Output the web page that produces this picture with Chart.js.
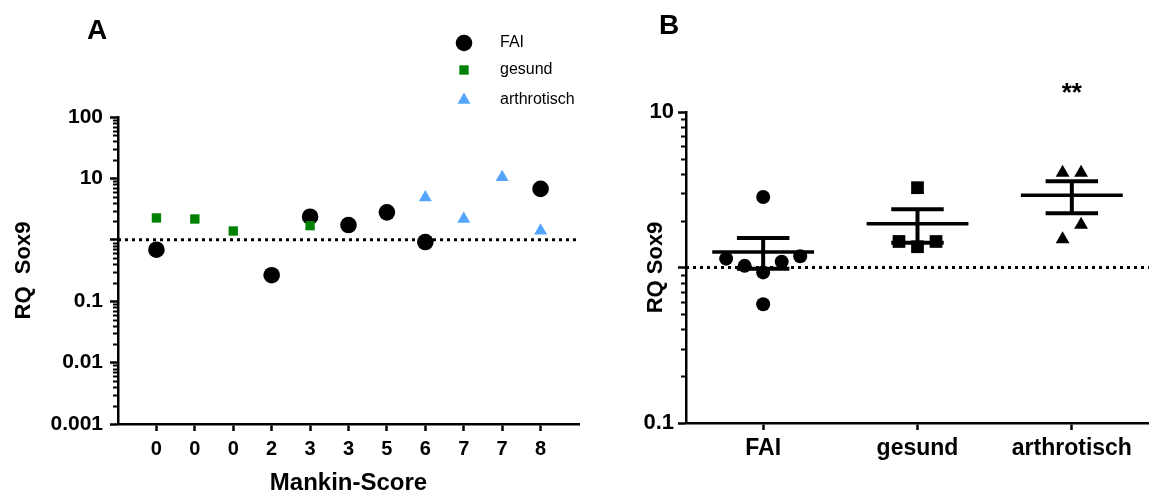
<!DOCTYPE html>
<html lang="de">
<head>
<meta charset="UTF-8">
<title>RQ Sox9</title>
<script src="https://cdn.jsdelivr.net/npm/chart.js@4.4.1/dist/chart.umd.min.js"></script>
<style>
    body { margin: 0; background: #fff; overflow: hidden; }
    .panel { position: absolute; top: 0; height: 496px; }
    #panelA { left: 0; width: 595px; }
    #panelB { left: 595px; width: 554px; }
</style>
</head>
<body>
<div class="panel" id="panelA"><canvas id="chartA"></canvas></div>
<div class="panel" id="panelB"><canvas id="chartB"></canvas></div>
<script>
// Panel A: RQ Sox9 je Probe, sortiert nach Mankin-Score
const mankinScores = ['0', '0', '0', '2', '3', '3', '5', '6', '7', '7', '8'];
const faiA = [0.69, null, null, 0.265, 2.38, 1.74, 2.80, 0.92, null, null, 6.75];
const gesundA = [2.27, 2.18, 1.39, null, 1.70, null, null, null, null, null, null];
const arthrotischA = [null, null, null, null, null, null, null, 4.87, 2.18, 10.4, 1.41];
const seriesNames = ['FAI', 'gesund', 'arthrotisch'];
const yTicksA = [0.001, 0.01, 0.1, 1, 10, 100];
const yTickLabelsA = ['0.001', '0.01', '0.1', '', '10', '100'];

// Panel B: Gruppen mit Mittelwert +/- SEM
const groups = ['FAI', 'gesund', 'arthrotisch'];
const faiB = [2.84, 1.14, 1.025, 0.93, 0.58, 1.09, 1.18];
const gesundB = [3.26, 1.47, 1.36, 1.47];
const arthrotischB = [4.06, 4.06, 1.88, 1.52];
const meanB = [1.26, 1.91, 2.91];
const semUpperB = [1.55, 2.37, 3.59];
const semLowerB = [0.98, 1.44, 2.23];
const significance = ['', '', '**'];
const yTicksB = [0.1, 1, 10];
const yTickLabelsB = ['0.1', '', '10'];

// horizontale Streuung der Punkte innerhalb einer Gruppe
const jitterFai = [0, -0.24, -0.12, 0, 0, 0.12, 0.24];
const jitterGesund = [0, -0.12, 0, 0.12];
const jitterArthro = [-0.06, 0.06, 0.06, -0.06];

const FONT = "'Liberation Sans', Arial, sans-serif";
Chart.defaults.font.family = FONT;
Chart.defaults.color = '#000';
Chart.defaults.animation = false;

// kurze Teilstriche 2..9 jeder Dekade
const minorTicks = {
    id: 'minorTicks',
    afterDraw(chart, args, opts) {
        const y = chart.scales.y;
        const ctx = chart.ctx;
        const x0 = y.right;
        ctx.save();
        ctx.strokeStyle = '#000';
        ctx.lineWidth = 2;
        const d0 = Math.round(Math.log10(y.min));
        const d1 = Math.round(Math.log10(y.max));
        for (let d = d0; d < d1; d++) {
            for (let m = 2; m <= 9; m++) {
                const py = Math.round(y.getPixelForValue(m * Math.pow(10, d))) + 0.5;
                ctx.beginPath();
                ctx.moveTo(x0 - opts.length, py);
                ctx.lineTo(x0, py);
                ctx.stroke();
            }
        }
        ctx.restore();
    }
};

// Panel-Buchstaben, Legende, Signifikanzsterne
const panelText = {
    id: 'panelText',
    afterDraw(chart, args, opts) {
        const ctx = chart.ctx;
        ctx.save();
        ctx.fillStyle = '#000';
        ctx.textBaseline = 'alphabetic';
        ctx.textAlign = 'center';
        ctx.font = 'bold 28px ' + FONT;
        ctx.fillText(opts.letter, opts.letterX, opts.letterY);

        if (opts.legend) {
            const lg = opts.legend;
            chart.data.datasets.filter(ds => ds.inLegend).forEach((ds, i) => {
                const y = lg.rows[i];
                ctx.fillStyle = ds.backgroundColor;
                Chart.helpers.drawPoint(ctx, {
                    pointStyle: ds.pointStyle, radius: ds.pointRadius, rotation: 0, borderWidth: 0
                }, lg.x, y);
                ctx.fillStyle = '#000';
                ctx.font = '16px ' + FONT;
                ctx.textAlign = 'left';
                ctx.textBaseline = 'middle';
                ctx.fillText(seriesNames[i], lg.textX, y);
            });
        }

        if (opts.stars) {
            ctx.font = 'bold 26px ' + FONT;
            ctx.textAlign = 'center';
            ctx.textBaseline = 'alphabetic';
            significance.forEach((s, i) => {
                if (s) ctx.fillText(s, chart.scales.x.getPixelForValue(i), chart.chartArea.top - 11);
            });
        }
        ctx.restore();
    }
};

function toPoints(values) {
    return values.map((v, i) => v === null ? null : {x: i, y: v}).filter(Boolean);
}

function axisStyle(tickLen) {
    return {
        grid: { drawOnChartArea: false, drawTicks: true, tickLength: tickLen, tickWidth: 2.5, tickColor: '#000' },
        border: { display: true, color: '#000', width: 2.5 }
    };
}

// x-Achse: feste Höhe, keine automatische Randreserve für Beschriftungen
const fixHeight = h => s => { s.height = h; s.paddingLeft = 0; s.paddingRight = 0; };

const refLine = (x0, x1) => ({
    type: 'line', data: [{x: x0, y: 1}, {x: x1, y: 1}],
    borderColor: '#000', borderWidth: 3, borderDash: [3, 4], pointRadius: 0, order: 10
});

new Chart(document.getElementById('chartA'), {
    type: 'scatter',
    data: {
        datasets: [
            { label: seriesNames[0], data: toPoints(faiA), inLegend: true, pointStyle: 'circle', pointRadius: 8.3,
              backgroundColor: '#000', borderWidth: 0, order: 3 },
            { label: seriesNames[1], data: toPoints(gesundA), inLegend: true, pointStyle: 'rect', pointRadius: 6.6,
              backgroundColor: '#008000', borderWidth: 0, order: 1 },
            { label: seriesNames[2], data: toPoints(arthrotischA), inLegend: true, pointStyle: 'triangle', pointRadius: 7.5,
              backgroundColor: '#55a5ff', borderWidth: 0, order: 2 },
            refLine(-1, 11)
        ]
    },
    options: {
        responsive: true,
        maintainAspectRatio: false,
        events: [],
        layout: { autoPadding: false, padding: { left: 0, right: 16, top: 117, bottom: 0 } },
        plugins: {
            legend: { display: false },
            tooltip: { enabled: false },
            minorTicks: { length: 5 },
            panelText: { letter: 'A', letterX: 97, letterY: 39,
                         legend: { x: 464, textX: 500, rows: [43, 70, 100] } }
        },
        scales: {
            x: Object.assign(axisStyle(7), {
                type: 'linear', min: -1, max: 11,
                afterBuildTicks: s => { s.ticks = mankinScores.map((_, i) => ({value: i})); },
                afterFit: fixHeight(72),
                ticks: { callback: v => mankinScores[v], autoSkip: false, maxRotation: 0, padding: 6,
                         font: { size: 20, weight: 'bold' } },
                title: { display: true, text: 'Mankin-Score', font: { size: 24, weight: 'bold' }, padding: { top: 0, bottom: -2 } }
            }),
            y: Object.assign(axisStyle(8), {
                type: 'logarithmic', min: 0.001, max: 100,
                afterBuildTicks: s => { s.ticks = yTicksA.map(v => ({value: v})); },
                afterFit: s => { s.width = 118; },
                ticks: { callback: (v, i) => yTickLabelsA[i], autoSkip: false, padding: 7,
                         font: { size: 21, weight: 'bold' } },
                title: { display: true, text: 'RQ  Sox9', font: { size: 22, weight: 'bold' }, padding: { top: 11, bottom: 0 } }
            })
        }
    },
    plugins: [minorTicks, panelText]
});

// Mittelwert- und SEM-Striche je Gruppe
const summaryLines = [];
groups.forEach((g, i) => {
    const seg = (x0, y0, x1, y1, w) => ({
        type: 'line', data: [{x: x0, y: y0}, {x: x1, y: y1}],
        borderColor: '#000', borderWidth: w, pointRadius: 0, order: 0, borderCapStyle: 'butt'
    });
    summaryLines.push(seg(i - 0.33, meanB[i], i + 0.33, meanB[i], 3.5));
    summaryLines.push(seg(i, semLowerB[i], i, semUpperB[i], 4));
    summaryLines.push(seg(i - 0.17, semUpperB[i], i + 0.17, semUpperB[i], 4));
    summaryLines.push(seg(i - 0.17, semLowerB[i], i + 0.17, semLowerB[i], 4));
});

const groupPoints = (values, g, jitter) => values.map((v, k) => ({x: g + jitter[k], y: v}));

new Chart(document.getElementById('chartB'), {
    type: 'scatter',
    data: {
        datasets: summaryLines.concat([
            { label: groups[0], data: groupPoints(faiB, 0, jitterFai), pointStyle: 'circle', pointRadius: 7,
              backgroundColor: '#000', borderWidth: 0, order: 1 },
            { label: groups[1], data: groupPoints(gesundB, 1, jitterGesund), pointStyle: 'rect', pointRadius: 9,
              backgroundColor: '#000', borderWidth: 0, order: 1 },
            { label: groups[2], data: groupPoints(arthrotischB, 2, jitterArthro), pointStyle: 'triangle', pointRadius: 8,
              backgroundColor: '#000', borderWidth: 0, order: 1 },
            refLine(-0.5, 2.5)
        ])
    },
    options: {
        responsive: true,
        maintainAspectRatio: false,
        events: [],
        layout: { autoPadding: false, padding: { left: 0, right: 0, top: 112, bottom: 0 } },
        plugins: {
            legend: { display: false },
            tooltip: { enabled: false },
            minorTicks: { length: 5 },
            panelText: { letter: 'B', letterX: 74, letterY: 34, stars: true }
        },
        scales: {
            x: Object.assign(axisStyle(7), {
                type: 'linear', min: -0.5, max: 2.5,
                afterBuildTicks: s => { s.ticks = groups.map((_, i) => ({value: i})); },
                afterFit: fixHeight(73),
                ticks: { callback: v => groups[v], autoSkip: false, maxRotation: 0, padding: 5,
                         font: { size: 23, weight: 'bold' } }
            }),
            y: Object.assign(axisStyle(8), {
                type: 'logarithmic', min: 0.1, max: 10,
                afterBuildTicks: s => { s.ticks = yTicksB.map(v => ({value: v})); },
                afterFit: s => { s.width = 91; },
                ticks: { callback: (v, i) => yTickLabelsB[i], autoSkip: false, padding: 4,
                         font: { size: 22, weight: 'bold' } },
                title: { display: true, text: 'RQ Sox9', font: { size: 22, weight: 'bold' }, padding: { top: 48, bottom: 0 } }
            })
        }
    },
    plugins: [minorTicks, panelText]
});
</script>
</body>
</html>
